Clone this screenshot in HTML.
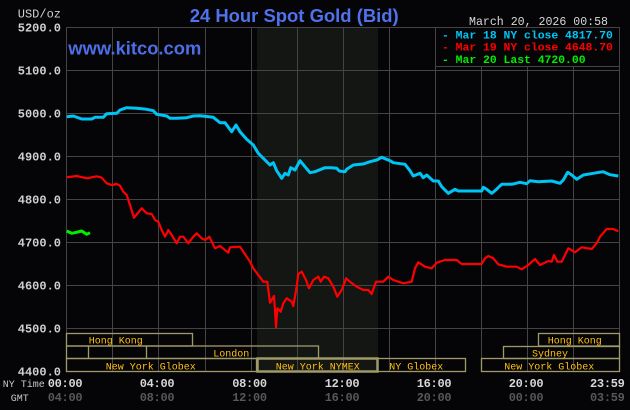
<!DOCTYPE html>
<html>
<head>
<meta charset="utf-8">
<style>
html,body{margin:0;padding:0;background:#050508;}
svg{display:block;}
.mono{font-family:"Liberation Mono",monospace;}
.sans{font-family:"Liberation Sans",sans-serif;}
</style>
</head>
<body>
<svg width="630" height="410" viewBox="0 0 630 410" xmlns="http://www.w3.org/2000/svg">
<rect x="0" y="0" width="630" height="410" fill="#050508"/>
<!-- shaded region -->
<rect x="257" y="27.5" width="121" height="344" fill="#131613"/>
<!-- grid -->
<g stroke="#444444" stroke-width="1" fill="none">
<line x1="66.5" y1="27.5" x2="619.5" y2="27.5"/>
<line x1="66.5" y1="70.5" x2="619.5" y2="70.5"/>
<line x1="66.5" y1="113.5" x2="619.5" y2="113.5"/>
<line x1="66.5" y1="156.5" x2="619.5" y2="156.5"/>
<line x1="66.5" y1="199.5" x2="619.5" y2="199.5"/>
<line x1="66.5" y1="242.5" x2="619.5" y2="242.5"/>
<line x1="66.5" y1="285.5" x2="619.5" y2="285.5"/>
<line x1="66.5" y1="328.5" x2="619.5" y2="328.5"/>
<line x1="66.5" y1="27.5" x2="66.5" y2="371.5"/>
<line x1="112.5" y1="27.5" x2="112.5" y2="371.5"/>
<line x1="158.5" y1="27.5" x2="158.5" y2="371.5"/>
<line x1="205.5" y1="27.5" x2="205.5" y2="371.5"/>
<line x1="251.5" y1="27.5" x2="251.5" y2="371.5"/>
<line x1="297.5" y1="27.5" x2="297.5" y2="371.5"/>
<line x1="343.5" y1="27.5" x2="343.5" y2="371.5"/>
<line x1="389.5" y1="27.5" x2="389.5" y2="371.5"/>
<line x1="435.5" y1="27.5" x2="435.5" y2="371.5"/>
<line x1="481.5" y1="27.5" x2="481.5" y2="371.5"/>
<line x1="527.5" y1="27.5" x2="527.5" y2="371.5"/>
<line x1="573.5" y1="27.5" x2="573.5" y2="371.5"/>
<line x1="619.5" y1="27.5" x2="619.5" y2="371.5"/>
</g>
<!-- legend box -->
<rect x="435.5" y="27.5" width="184" height="39" fill="#050508" stroke="#444444" stroke-width="1"/>
<g class="mono" font-weight="bold" font-size="11.4">
<text x="442" y="38.5" fill="#00c4f4">- Mar 18 NY close 4817.70</text>
<text x="442" y="50.5" fill="#ff0000">- Mar 19 NY close 4648.70</text>
<text x="442" y="63" fill="#00ee00">- Mar 20 Last 4720.00</text>
</g>
<!-- titles -->
<text class="sans" x="189.7" y="22" font-size="18.5" font-weight="bold" fill="#5072ec" textLength="209" lengthAdjust="spacingAndGlyphs">24 Hour Spot Gold (Bid)</text>
<text class="sans" x="68.3" y="54.3" font-size="18.3" font-weight="bold" fill="#4d6ee6" textLength="133" lengthAdjust="spacingAndGlyphs">www.kitco.com</text>
<text class="mono" x="469" y="25" font-size="11.6" fill="#d8d8d8" textLength="139" lengthAdjust="spacingAndGlyphs">March 20, 2026 00:58</text>
<!-- y labels -->
<g class="mono" font-weight="bold" font-size="12" fill="#d0d0d0" text-anchor="end">
<text x="61" y="17.5" font-weight="normal">USD/oz</text>
<text x="61" y="31.5">5200.0</text>
<text x="61" y="74.5">5100.0</text>
<text x="61" y="117.5">5000.0</text>
<text x="61" y="160.5">4900.0</text>
<text x="61" y="203.5">4800.0</text>
<text x="61" y="246.5">4700.0</text>
<text x="61" y="289.5">4600.0</text>
<text x="61" y="332.5">4500.0</text>
<text x="61" y="375.5">4400.0</text>
</g>
<!-- sessions -->
<g stroke="#a09a68" stroke-width="1.3" fill="none">
<rect x="66.5" y="333.5" width="126" height="12.5"/>
<rect x="538.5" y="333.5" width="81" height="12.5"/>
<rect x="66.5" y="346" width="252" height="12.5"/>
<line x1="88.5" y1="346" x2="88.5" y2="358.5"/>
<line x1="146.5" y1="346" x2="146.5" y2="358.5"/>
<rect x="503.5" y="346.5" width="116" height="12"/>
<rect x="66.5" y="358.5" width="190" height="13"/>
<rect x="257.5" y="358.5" width="120" height="13" stroke-width="2.5"/>
<rect x="377.5" y="358.5" width="88" height="13"/>
<rect x="481.5" y="358.5" width="138" height="13"/>
</g>
<g class="mono" font-size="10" fill="#ffc010">
<text x="88.7" y="343.5">Hong Kong</text>
<text x="547.7" y="343.5">Hong Kong</text>
<text x="213.3" y="356.3">London</text>
<text x="532" y="356.3">Sydney</text>
<text x="105.7" y="369.3">New York Globex</text>
<text x="275.7" y="369.3">New York NYMEX</text>
<text x="389.3" y="369.3">NY Globex</text>
<text x="504.3" y="369.3">New York Globex</text>
</g>
<!-- time labels -->
<g class="mono" font-size="10" fill="#c8c8c8">
<text x="2.7" y="387">NY Time</text>
<text x="10.7" y="401">GMT</text>
</g>
<g class="mono" font-weight="bold" font-size="12" text-anchor="middle" letter-spacing="-0.3">
<g fill="#d8d8d8">
<text x="65" y="387">00:00</text>
<text x="157" y="387">04:00</text>
<text x="249.5" y="387">08:00</text>
<text x="342" y="387">12:00</text>
<text x="434" y="387">16:00</text>
<text x="526" y="387">20:00</text>
<text x="607.3" y="387">23:59</text>
</g>
<g fill="#585858">
<text x="65" y="401">04:00</text>
<text x="157" y="401">08:00</text>
<text x="249.5" y="401">12:00</text>
<text x="342" y="401">16:00</text>
<text x="434" y="401">20:00</text>
<text x="526" y="401">00:00</text>
<text x="607.3" y="401">03:59</text>
</g>
</g>
<!-- series -->
<polyline fill="none" stroke="#00c4f4" stroke-width="3" stroke-linejoin="round" points="66.7,116.7 73.3,116 81.7,119 91.7,119 95,117.3 103.3,117.3 106.7,113.7 116.7,113.3 120,110 126.7,107.7 136.7,108.3 146.7,109.3 153.3,110.7 156.7,114.3 166.7,116 170,118.3 176.7,118.3 186.7,117.7 193.3,116 200,115.7 213.3,117.3 220,122.7 225,122.7 231.7,131.7 236,125 240,131.7 246.7,139.3 253.3,145 258.3,153.3 263.3,158.3 270,165 273.3,162.7 276.7,170.7 281.7,178.3 285,173.3 288.3,175 290.7,167.7 295,170 300,160.7 305,166.7 310,172.7 315,171.7 325,167.7 331.7,167.7 336.7,168.3 339.3,171 345,171.7 346.7,169.3 353.3,165 363.3,164 370,161.7 376.7,160 381.7,157.3 390,160.7 393.3,162.7 405,164.3 410,170.7 413.3,176 420,173.3 423.3,177.7 426.7,175 433.3,181 438.3,181 441.7,186.7 448.3,193.3 455,189.3 458.3,191 481.7,191 483.3,187.3 486.7,189.3 491.7,193.3 495,190.7 501.7,184.3 511.7,184.3 520,182.3 526.7,183.7 530,180.7 538.3,181.7 551.7,181 560,183.3 563.3,180 567.7,172.3 571.7,175 576.7,179.3 583.3,175 593.3,173.3 603.3,171.7 610,174.7 618.3,176"/>
<polyline fill="none" stroke="#ff0000" stroke-width="2.2" stroke-linejoin="round" points="66.7,177.3 76.7,176 86.7,178.3 96.7,176.3 101.7,177.7 106.7,183.3 111.7,185 116.7,184 120,185.7 123.3,191.7 126.7,195 130,205 134,217.7 141.7,208.3 146.7,213.3 151.7,214 155,220 158.3,221.7 161.7,230 165,236.7 168.3,230 171.7,235 176.7,243.3 180,236.7 183.3,236.7 188.3,243.3 193.3,236.7 196.7,233.3 201.7,238.3 205,240 209.3,236.7 215,248.3 220,246 228.3,252.7 230,247.3 240,246.7 243.3,251.7 250,261.7 253.3,268.3 258.3,275 263.3,281.7 267.3,281.7 270,302.7 274,296 275.5,318 276,327.3 277.3,308.3 280.7,311.7 283.3,303.3 286.7,298.3 291.7,301.7 293.3,306 296.7,286.7 298.3,274 301.7,271.7 306,280 309,288.3 313.3,280 318.3,276.7 320.7,281.7 324,276.7 328.3,278.3 333.3,286.7 337.3,296.7 341.7,290 345,281.7 346,278.3 350,281.7 356.7,286.7 363.3,290 368.3,290 371.7,294 376,281.7 383.3,281.7 388.3,276.7 393.3,280 403.3,283.3 411.7,281.7 415,268.3 418.3,262.3 425,266.7 431.7,268.3 436.7,262.7 445,260 456.7,260 461.7,264 481.7,264 485,258.3 488.3,256 493.3,258.3 498.3,264.3 506.7,266.7 516.7,266.7 521.7,269.3 528.3,265 535,259 540,265 548.3,261 551.7,261.7 554,255 557.3,261.7 561.7,261.7 568.3,248.3 575,252.3 581.7,247.3 591.7,249 596.7,243.3 600,236.7 606.7,229 613.3,229 618.3,231.3"/>
<polyline fill="none" stroke="#00ee00" stroke-width="3" stroke-linejoin="round" points="66.7,231 71.7,233.3 76.7,232.3 81.7,231 86.7,234.3 90,232.7"/>
</svg>
</body>
</html>
